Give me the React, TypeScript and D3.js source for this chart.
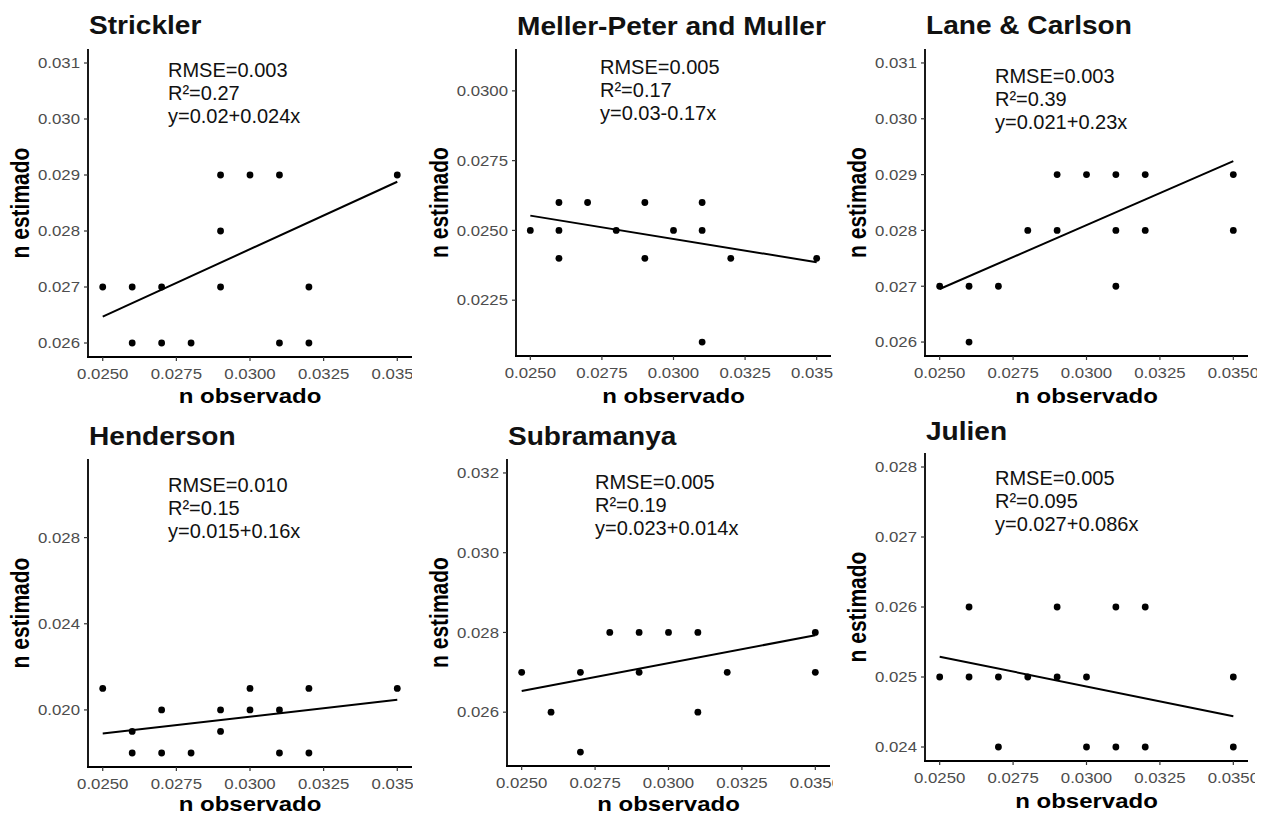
import React from 'react';
import * as d3 from 'd3';

const W = 1261;
const H = 817;
const FONT = '"Liberation Sans", Arial, sans-serif';

// shared x axis
const xTicks = [0.025, 0.0275, 0.03, 0.0325, 0.035];
const xDomain = [0.0245, 0.0355];

// Strickler
const stricklerObs = [0.025, 0.026, 0.026, 0.027, 0.027, 0.028, 0.029, 0.029, 0.029, 0.03, 0.031, 0.031, 0.032, 0.032, 0.035];
const stricklerEst = [0.027, 0.027, 0.026, 0.027, 0.026, 0.026, 0.029, 0.028, 0.027, 0.029, 0.029, 0.026, 0.027, 0.026, 0.029];
const stricklerFit = [0.02647, 0.02888];
const stricklerTicks = [0.026, 0.027, 0.028, 0.029, 0.03, 0.031];
const stricklerStats = ['RMSE=0.003', 'R²=0.27', 'y=0.02+0.024x'];

// Meller-Peter and Muller
const mellerObs = [0.025, 0.026, 0.026, 0.026, 0.027, 0.028, 0.029, 0.029, 0.03, 0.031, 0.031, 0.031, 0.032, 0.035];
const mellerEst = [0.025, 0.026, 0.025, 0.024, 0.026, 0.025, 0.026, 0.024, 0.025, 0.026, 0.025, 0.021, 0.024, 0.024];
const mellerFit = [0.02553, 0.02386];
const mellerTicks = [0.0225, 0.025, 0.0275, 0.03];
const mellerStats = ['RMSE=0.005', 'R²=0.17', 'y=0.03-0.17x'];

// Lane & Carlson
const laneObs = [0.025, 0.026, 0.026, 0.027, 0.028, 0.029, 0.029, 0.03, 0.031, 0.031, 0.031, 0.032, 0.032, 0.035, 0.035];
const laneEst = [0.027, 0.027, 0.026, 0.027, 0.028, 0.029, 0.028, 0.029, 0.029, 0.028, 0.027, 0.029, 0.028, 0.029, 0.028];
const laneFit = [0.02695, 0.02924];
const laneTicks = [0.026, 0.027, 0.028, 0.029, 0.03, 0.031];
const laneStats = ['RMSE=0.003', 'R²=0.39', 'y=0.021+0.23x'];

// Henderson
const hendersonObs = [0.025, 0.026, 0.026, 0.027, 0.027, 0.028, 0.029, 0.029, 0.03, 0.03, 0.031, 0.031, 0.032, 0.032, 0.035];
const hendersonEst = [0.021, 0.019, 0.018, 0.02, 0.018, 0.018, 0.02, 0.019, 0.021, 0.02, 0.02, 0.018, 0.021, 0.018, 0.021];
const hendersonFit = [0.01891, 0.02047];
const hendersonTicks = [0.02, 0.024, 0.028];
const hendersonStats = ['RMSE=0.010', 'R²=0.15', 'y=0.015+0.16x'];

// Subramanya
const subraObs = [0.025, 0.026, 0.027, 0.027, 0.028, 0.029, 0.029, 0.03, 0.031, 0.031, 0.032, 0.035, 0.035];
const subraEst = [0.027, 0.026, 0.027, 0.025, 0.028, 0.028, 0.027, 0.028, 0.028, 0.026, 0.027, 0.028, 0.027];
const subraFit = [0.02653, 0.02793];
const subraTicks = [0.026, 0.028, 0.03, 0.032];
const subraStats = ['RMSE=0.005', 'R²=0.19', 'y=0.023+0.014x'];

// Julien
const julienObs = [0.025, 0.026, 0.026, 0.027, 0.027, 0.028, 0.029, 0.029, 0.03, 0.03, 0.031, 0.031, 0.032, 0.032, 0.035, 0.035];
const julienEst = [0.025, 0.026, 0.025, 0.025, 0.024, 0.025, 0.026, 0.025, 0.025, 0.024, 0.026, 0.024, 0.026, 0.024, 0.025, 0.024];
const julienFit = [0.02529, 0.02444];
const julienTicks = [0.024, 0.025, 0.026, 0.027, 0.028];
const julienStats = ['RMSE=0.005', 'R²=0.095', 'y=0.027+0.086x'];

// panel layout (pixels) + which data goes where
const panels = [
  { title: 'Strickler', obs: stricklerObs, est: stricklerEst, fit: stricklerFit, yTicks: stricklerTicks, yDomain: [0.02575, 0.03125], fmt: '.3f', stats: stricklerStats,
    xr: [88, 412], yr: [357, 49], clip: 412, titleY: 34, statX: 168, statY: 77, yTitleX: 21, xTitleY: 403 },
  { title: 'Meller-Peter and Muller', obs: mellerObs, est: mellerEst, fit: mellerFit, yTicks: mellerTicks, yDomain: [0.0205, 0.0315], fmt: '.4f', stats: mellerStats,
    xr: [516, 831], yr: [356, 49], clip: 833, titleY: 35, statX: 600, statY: 74, yTitleX: 440, xTitleY: 403 },
  { title: 'Lane & Carlson', obs: laneObs, est: laneEst, fit: laneFit, yTicks: laneTicks, yDomain: [0.02575, 0.03125], fmt: '.3f', stats: laneStats,
    xr: [925, 1248], yr: [356, 49], clip: 1257, titleY: 34, statX: 995, statY: 83, yTitleX: 858, xTitleY: 403 },
  { title: 'Henderson', obs: hendersonObs, est: hendersonEst, fit: hendersonFit, yTicks: hendersonTicks, yDomain: [0.01735, 0.03165], fmt: '.3f', stats: hendersonStats,
    xr: [88, 412], yr: [767, 459], clip: 413, titleY: 445, statX: 168, statY: 492, yTitleX: 21, xTitleY: 811 },
  { title: 'Subramanya', obs: subraObs, est: subraEst, fit: subraFit, yTicks: subraTicks, yDomain: [0.02465, 0.03235], fmt: '.3f', stats: subraStats,
    xr: [507, 830], yr: [766, 459], clip: 833, titleY: 445, statX: 595, statY: 489, yTitleX: 440, xTitleY: 811 },
  { title: 'Julien', obs: julienObs, est: julienEst, fit: julienFit, yTicks: julienTicks, yDomain: [0.0238, 0.0282], fmt: '.3f', stats: julienStats,
    xr: [925, 1248], yr: [761, 453], clip: 1255, titleY: 440, statX: 995, statY: 485, yTitleX: 858, xTitleY: 808 },
];

// text with a horizontal stretch (the source picture is a bit wide)
const SText = ({ x, y, sx = 1, rot = false, anchor = 'start', size, weight = 'normal', fill = '#000', children }: any) => (
  <text
    transform={`translate(${x},${y}) scale(${sx},1)${rot ? ' rotate(-90)' : ''}`}
    textAnchor={anchor}
    fontSize={size}
    fontWeight={weight}
    fill={fill}
    fontFamily={FONT}
  >
    {children}
  </text>
);

const Panel = ({ p, i }: any) => {
  const x = d3.scaleLinear().domain(xDomain).range(p.xr);
  const y = d3.scaleLinear().domain(p.yDomain).range(p.yr);
  const fmtY = d3.format(p.fmt);
  const fmtX = d3.format('.4f');
  const left = p.xr[0];
  const bottom = p.yr[0];
  const top = p.yr[1];
  // fit line runs from the first to the last x tick
  const line = d3.line<number>()
    .x((_, k) => x(xTicks[k === 0 ? 0 : xTicks.length - 1]))
    .y(d => y(d));
  const clipId = `clip-${i}`;

  return (
    <g>
      <defs>
        <clipPath id={clipId}>
          <rect x={0} y={0} width={p.clip} height={H} />
        </clipPath>
      </defs>
      <g clipPath={`url(#${clipId})`}>
        {/* title */}
        <SText x={left + 1} y={p.titleY} sx={1.08} size={26} weight="bold" fill="#111">{p.title}</SText>

        {/* y axis */}
        <line x1={left} x2={left} y1={top} y2={bottom + 1} stroke="#000" strokeWidth={1.8} />
        {p.yTicks.map((t: number) => (
          <g key={t}>
            <line x1={left - 4} x2={left} y1={y(t)} y2={y(t)} stroke="#333" strokeWidth={1.2} />
            <SText x={left - 8} y={y(t) + 5.3} sx={1.12} anchor="end" size={15} fill="#4d4d4d">{fmtY(t)}</SText>
          </g>
        ))}

        {/* x axis */}
        <line x1={left - 1} x2={p.xr[1]} y1={bottom} y2={bottom} stroke="#000" strokeWidth={1.8} />
        {xTicks.map(t => (
          <g key={t}>
            <line x1={x(t)} x2={x(t)} y1={bottom} y2={bottom + 4} stroke="#333" strokeWidth={1.2} />
            <SText x={x(t)} y={bottom + 21.5} sx={1.12} anchor="middle" size={15} fill="#4d4d4d">{fmtX(t)}</SText>
          </g>
        ))}

        {/* axis titles */}
        <SText x={(p.xr[0] + p.xr[1]) / 2} y={p.xTitleY} sx={1.2} anchor="middle" size={20} weight="bold">n observado</SText>
        <SText x={p.yTitleX + 8} y={(top + bottom) / 2} sx={1.25} rot anchor="middle" size={21} weight="bold">n estimado</SText>

        {/* points */}
        {p.obs.map((o: number, k: number) => (
          <circle key={k} cx={x(o)} cy={y(p.est[k])} r={3.4} fill="#000" />
        ))}

        {/* fitted line */}
        <path d={line(p.fit) || ''} fill="none" stroke="#000" strokeWidth={2} />

        {/* stats */}
        {p.stats.map((s: string, k: number) => (
          <SText key={s} x={p.statX} y={p.statY + k * 23} size={20} fill="#111">{s}</SText>
        ))}
      </g>
    </g>
  );
};

export default function App() {
  return (
    <svg width={W} height={H} style={{ position: 'absolute', left: 0, top: 0, background: '#fff' }}>
      <rect width={W} height={H} fill="#fff" />
      {panels.map((p, i) => <Panel key={p.title} p={p} i={i} />)}
    </svg>
  );
}
